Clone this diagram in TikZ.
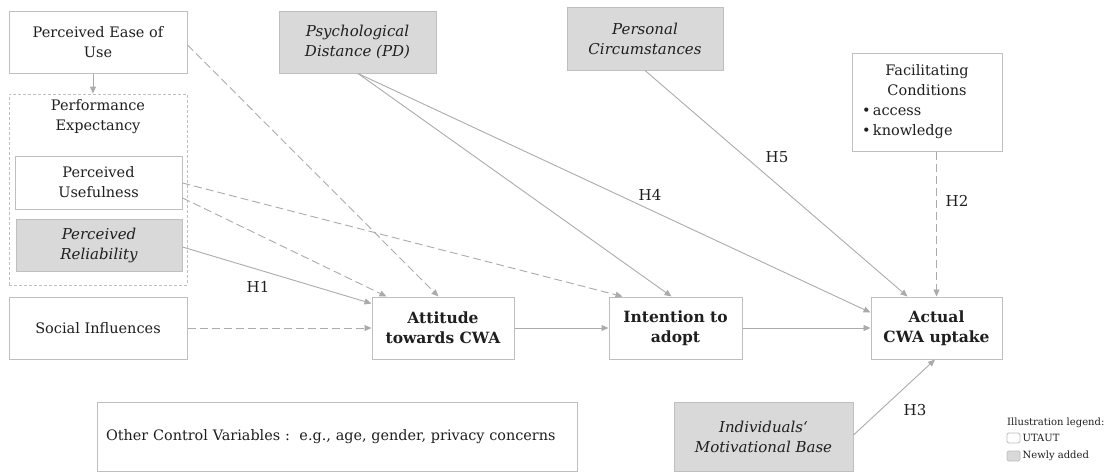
\documentclass[tikz,border=0pt]{standalone}
\usepackage{fontspec}
\setmainfont{DejaVu Serif}
\usetikzlibrary{positioning}
\usetikzlibrary{arrows.meta}
\definecolor{linegray}{HTML}{BFBFBF}
\definecolor{arrowgray}{HTML}{ABABAB}
\definecolor{addgray}{HTML}{D9D9D9}
\definecolor{inkgray}{HTML}{1F1F1F}
\tikzset{cwabox/.style={draw=linegray, line width=1pt, fill=white,
align=center, inner sep=0pt, text=inkgray, font=\fontsize{14.5}{20}\selectfont},
newbox/.style={cwabox, fill=addgray, font=\fontsize{15}{20}\selectfont\itshape},
keybox/.style={cwabox, font=\fontsize{15.5}{20}\selectfont\bfseries},
link/.style={draw=arrowgray, line width=0.9pt, -{Triangle[length=7pt,width=6pt]}},
weak/.style={link, dash pattern=on 8pt off 4pt},
hyp/.style={text=inkgray, font=\fontsize{15}{18}\selectfont, inner sep=0pt},
legendtext/.style={text=inkgray, font=\fontsize{10}{12}\selectfont, inner sep=0pt}}

\begin{document}
\begin{tikzpicture}[x=1pt, y=-1pt]
	\useasboundingbox (0,0) rectangle (1111,472);
	% left column
	\node[cwabox, minimum width=178pt, minimum height=62pt] (ease) at (98,42) {Perceived Ease of\\Use};
	\node[draw=linegray, line width=0.8pt, dash pattern=on 3pt off 2pt,
		minimum width=178pt, minimum height=191pt, inner sep=0pt] (perf) at (98,189.5) {};
	\node[text=inkgray, font=\fontsize{14.5}{20}\selectfont, align=center, inner sep=0pt,
		below=6pt of perf.north] (perftitle) {Performance\\Expectancy};
	\node[cwabox, minimum width=167pt, minimum height=53pt] (use) at (98.5,182.5) {Perceived\\Usefulness};
	\node[newbox, minimum width=166pt, minimum height=52pt] (rel) at (99,245) {Perceived\\Reliability};
	\node[cwabox, minimum width=178pt, minimum height=62pt] (social) at (98,328) {Social Influences};
	% main chain
	\node[keybox, minimum width=142pt, minimum height=62pt] (att) at (443,328) {Attitude\\towards CWA};
	\node[keybox, minimum width=133pt, minimum height=62pt] (intent) at (675.5,328) {Intention to\\adopt};
	\node[keybox, minimum width=131pt, minimum height=62pt] (actual) at (936.5,328) {Actual\\CWA uptake};
	% upper row
	\node[newbox, minimum width=157pt, minimum height=62pt] (pd) at (357.5,42) {Psychological\\Distance (PD)};
	\node[newbox, minimum width=156pt, minimum height=63pt] (pers) at (645,38.5) {Personal\\Circumstances};
	\node[cwabox, minimum width=150pt, minimum height=98pt] (facil) at (927,102)
		{Facilitating\\Conditions\\\makebox[130pt][l]{\textbullet\,access}\\\makebox[130pt][l]{\textbullet\,knowledge}};
	% lower row
	\node[newbox, minimum width=179pt, minimum height=69pt] (indiv) at (763.5,436.5) {Individuals‘\\Motivational Base};
	\node[cwabox, minimum width=480pt, minimum height=69pt, text width=462pt, align=left,
		font=\fontsize{14.4}{18}\selectfont] (other) at (337,436.5)
		{Other Control Variables :\ \ e.g., age, gender, privacy concerns};
	% legend
	\node[legendtext, anchor=base west] (legend) at (1007,425) {Illustration legend:};
	\node[draw=linegray, line width=0.8pt, fill=white, rounded corners=1.5pt,
		minimum width=13pt, minimum height=10pt, inner sep=0pt] (keyold) at (1013.5,438) {};
	\node[legendtext, right=2pt of keyold] (keyoldtext) {UTAUT};
	\node[draw=linegray, line width=0.8pt, fill=addgray, rounded corners=1.5pt,
		minimum width=13pt, minimum height=10pt, inner sep=0pt] (keynew) at (1013.5,456) {};
	\node[legendtext, right=2pt of keynew] (keynewtext) {Newly added};
	% hypotheses
	\node[hyp] (h1) at (258,287) {H1};
	\node[hyp] (h2) at (957,201) {H2};
	\node[hyp] (h3) at (915,410) {H3};
	\node[hyp] (h4) at (650,195) {H4};
	\node[hyp] (h5) at (777,157) {H5};
	% connectors
	\draw[link] ([xshift=-5pt]ease.south) -- ([xshift=-5pt]perf.north);
	\draw[weak] ([yshift=-3pt]ease.east) -- ([xshift=67pt]att.north west);
	\draw[weak] ([yshift=-15.5pt]use.east) -- ([xshift=15pt]att.north west);
	\draw[weak] ([yshift=-0.5pt]use.east) -- ([xshift=14pt]intent.north west);
	\draw[link] ([yshift=-2pt]rel.east) -- ([yshift=-7pt]att.north west);
	\draw[weak] (social) -- (att);
	\draw[link] (att) -- (intent);
	\draw[link] (intent) -- (actual);
	\draw[link] ([xshift=0.5pt]pd.south) -- ([xshift=63pt]intent.north west);
	\draw[link] ([xshift=0.5pt]pd.south) -- ([yshift=-16pt]actual.north west);
	\draw[link] (pers.south) -- ([xshift=37pt]actual.north west);
	\draw[weak] (facil.south -| actual.north) -- (actual.north);
	\draw[link] ([yshift=1.5pt]indiv.east) -- ([xshift=-1.5pt]actual.south);
\end{tikzpicture}
\end{document}
